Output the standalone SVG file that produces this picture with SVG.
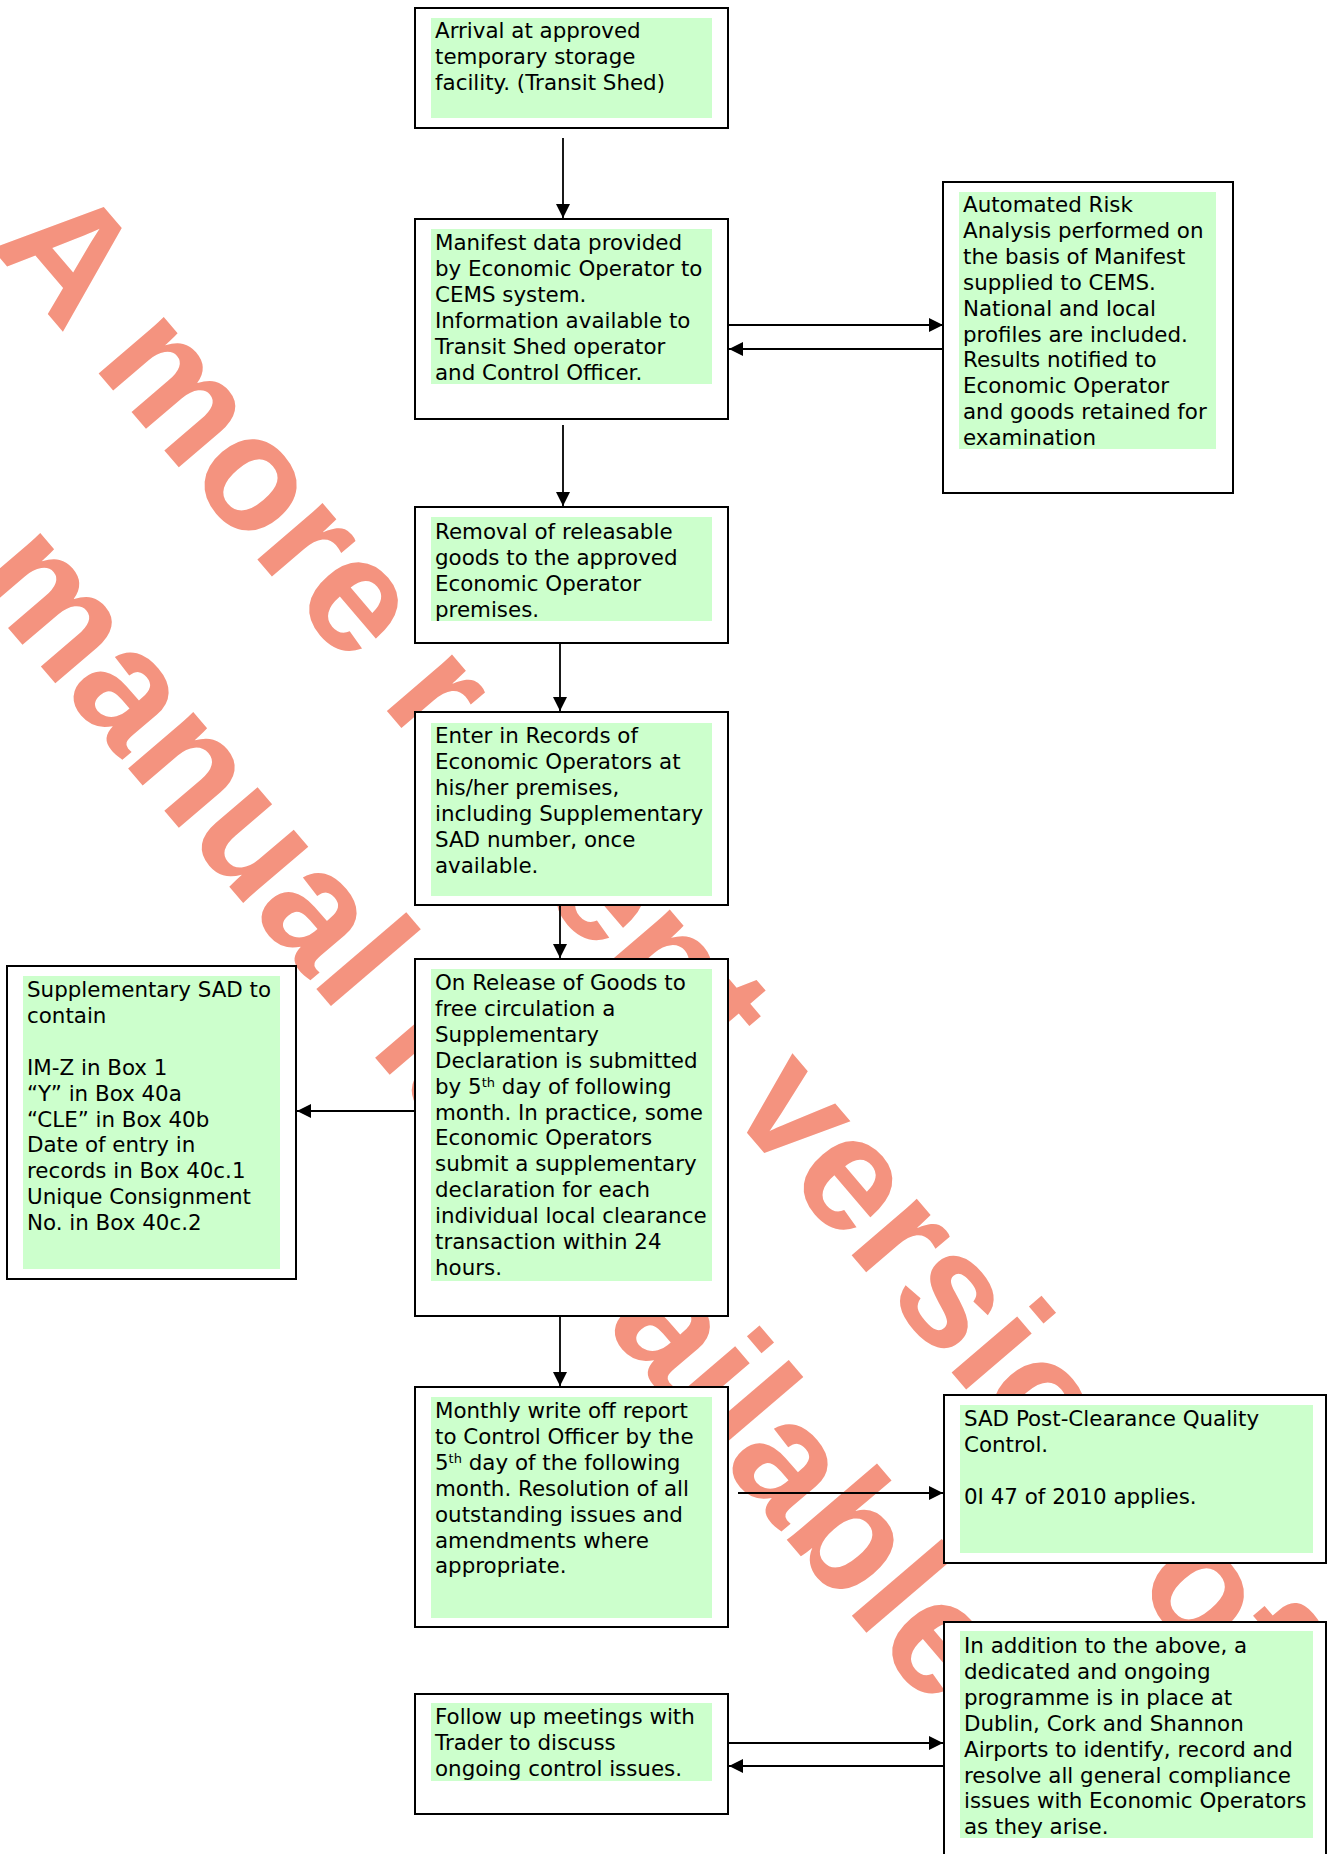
<svg xmlns="http://www.w3.org/2000/svg" width="1328" height="1854" viewBox="0 0 1328 1854">
<style>
.box{fill:#fff;stroke:#000;stroke-width:2}
.hl{fill:#ccffcc}
.t{font-family:"DejaVu Sans",Verdana,sans-serif;font-size:21.4px;fill:#000}
.sup{font-size:13px}
.wm{font-family:"Liberation Sans",Arial,sans-serif;font-weight:bold;font-size:163px;fill:#f4937f}
.c{stroke:#000;stroke-width:1.8;fill:none;marker-end:url(#ah)}
</style>
<defs>
<marker id="ah" markerUnits="userSpaceOnUse" markerWidth="15" markerHeight="15" refX="14" refY="7" orient="auto">
<path d="M0,0 L14,7 L0,14 z" fill="#000"/>
</marker>
</defs>
<rect width="1328" height="1854" fill="#fff"/>
<g id="watermark" transform="translate(-10.8,245.4) rotate(49.5)">
<text class="wm" x="0" y="0">A more recent version of</text>
<text class="wm" x="241" y="234">manual is available</text>
</g>
<g id="connectors">
<line class="c" x1="563" y1="138" x2="563" y2="218"/>
<line class="c" x1="728" y1="325" x2="943" y2="325"/>
<line class="c" x1="948" y1="349" x2="729" y2="349"/>
<line class="c" x1="563" y1="425" x2="563" y2="506"/>
<line class="c" x1="560" y1="643" x2="560" y2="711"/>
<line class="c" x1="560" y1="905" x2="560" y2="958"/>
<line class="c" x1="415" y1="1111" x2="297" y2="1111"/>
<line class="c" x1="560" y1="1316" x2="560" y2="1386"/>
<line class="c" x1="738" y1="1493" x2="943" y2="1493"/>
<line class="c" x1="728" y1="1743" x2="943" y2="1743"/>
<line class="c" x1="943" y1="1766" x2="729" y2="1766"/>
</g>
<g id="n1">
<rect class="box" x="415" y="8" width="313" height="120"/>
<rect class="hl" x="431" y="18" width="281" height="100"/>
<text class="t"><tspan x="435" y="38">Arrival at approved</tspan><tspan x="435" y="64">temporary storage</tspan><tspan x="435" y="90">facility. (Transit Shed)</tspan></text>
</g>
<g id="n2">
<rect class="box" x="415" y="219" width="313" height="200"/>
<rect class="hl" x="431" y="229" width="281" height="155"/>
<text class="t"><tspan x="435" y="250">Manifest data provided</tspan><tspan x="435" y="275.9">by Economic Operator to</tspan><tspan x="435" y="301.8">CEMS system.</tspan><tspan x="435" y="327.7">Information available to</tspan><tspan x="435" y="353.6">Transit Shed operator</tspan><tspan x="435" y="379.5">and Control Officer.</tspan></text>
</g>
<g id="n3">
<rect class="box" x="943" y="182" width="290" height="311"/>
<rect class="hl" x="959" y="192" width="257" height="257"/>
<text class="t"><tspan x="963" y="212">Automated Risk</tspan><tspan x="963" y="237.9">Analysis performed on</tspan><tspan x="963" y="263.8">the basis of Manifest</tspan><tspan x="963" y="289.7">supplied to CEMS.</tspan><tspan x="963" y="315.6">National and local</tspan><tspan x="963" y="341.5">profiles are included.</tspan><tspan x="963" y="367.4">Results notified to</tspan><tspan x="963" y="393.3">Economic Operator</tspan><tspan x="963" y="419.2">and goods retained for</tspan><tspan x="963" y="445.1">examination</tspan></text>
</g>
<g id="n4">
<rect class="box" x="415" y="507" width="313" height="136"/>
<rect class="hl" x="431" y="517" width="281" height="104"/>
<text class="t"><tspan x="435" y="539">Removal of releasable</tspan><tspan x="435" y="564.9">goods to the approved</tspan><tspan x="435" y="590.8">Economic Operator</tspan><tspan x="435" y="616.7">premises.</tspan></text>
</g>
<g id="n5">
<rect class="box" x="415" y="712" width="313" height="193"/>
<rect class="hl" x="431" y="723" width="281" height="173"/>
<text class="t"><tspan x="435" y="743">Enter in Records of</tspan><tspan x="435" y="768.9">Economic Operators at</tspan><tspan x="435" y="794.8">his/her premises,</tspan><tspan x="435" y="820.7">including Supplementary</tspan><tspan x="435" y="846.6">SAD number, once</tspan><tspan x="435" y="872.5">available.</tspan></text>
</g>
<g id="n6">
<rect class="box" x="415" y="959" width="313" height="357"/>
<rect class="hl" x="431" y="969" width="281" height="312"/>
<text class="t"><tspan x="435" y="990">On Release of Goods to</tspan><tspan x="435" y="1015.9">free circulation a</tspan><tspan x="435" y="1041.8">Supplementary</tspan><tspan x="435" y="1067.7">Declaration is submitted</tspan><tspan x="435" y="1093.6">by 5</tspan><tspan class="sup" dy="-7">th</tspan><tspan dy="7"> day of following</tspan><tspan x="435" y="1119.5">month. In practice, some</tspan><tspan x="435" y="1145.4">Economic Operators</tspan><tspan x="435" y="1171.3">submit a supplementary</tspan><tspan x="435" y="1197.2">declaration for each</tspan><tspan x="435" y="1223.1">individual local clearance</tspan><tspan x="435" y="1249">transaction within 24</tspan><tspan x="435" y="1274.9">hours.</tspan></text>
</g>
<g id="n7">
<rect class="box" x="7" y="966" width="289" height="313"/>
<rect class="hl" x="23" y="976" width="257" height="293"/>
<text class="t"><tspan x="27" y="997">Supplementary SAD to</tspan><tspan x="27" y="1022.9">contain</tspan><tspan x="27" y="1074.7">IM-Z in Box 1</tspan><tspan x="27" y="1100.6">“Y” in Box 40a</tspan><tspan x="27" y="1126.5">“CLE” in Box 40b</tspan><tspan x="27" y="1152.4">Date of entry in</tspan><tspan x="27" y="1178.3">records in Box 40c.1</tspan><tspan x="27" y="1204.2">Unique Consignment</tspan><tspan x="27" y="1230.1">No. in Box 40c.2</tspan></text>
</g>
<g id="n8">
<rect class="box" x="415" y="1387" width="313" height="240"/>
<rect class="hl" x="431" y="1397" width="281" height="221"/>
<text class="t"><tspan x="435" y="1418">Monthly write off report</tspan><tspan x="435" y="1443.9">to Control Officer by the</tspan><tspan x="435" y="1469.8">5</tspan><tspan class="sup" dy="-7">th</tspan><tspan dy="7"> day of the following</tspan><tspan x="435" y="1495.7">month. Resolution of all</tspan><tspan x="435" y="1521.6">outstanding issues and</tspan><tspan x="435" y="1547.5">amendments where</tspan><tspan x="435" y="1573.4">appropriate.</tspan></text>
</g>
<g id="n9">
<rect class="box" x="944" y="1395" width="382" height="168"/>
<rect class="hl" x="960" y="1405" width="353" height="148"/>
<text class="t"><tspan x="964" y="1426">SAD Post-Clearance Quality</tspan><tspan x="964" y="1451.9">Control.</tspan><tspan x="964" y="1503.7">0I 47 of 2010 applies.</tspan></text>
</g>
<g id="n10">
<rect class="box" x="415" y="1694" width="313" height="120"/>
<rect class="hl" x="431" y="1703" width="281" height="78"/>
<text class="t"><tspan x="435" y="1724">Follow up meetings with</tspan><tspan x="435" y="1749.9">Trader to discuss</tspan><tspan x="435" y="1775.8">ongoing control issues.</tspan></text>
</g>
<g id="n11">
<rect class="box" x="944" y="1622" width="382" height="250"/>
<rect class="hl" x="960" y="1631" width="353" height="207"/>
<text class="t"><tspan x="964" y="1653">In addition to the above, a</tspan><tspan x="964" y="1678.9">dedicated and ongoing</tspan><tspan x="964" y="1704.8">programme is in place at</tspan><tspan x="964" y="1730.7">Dublin, Cork and Shannon</tspan><tspan x="964" y="1756.6">Airports to identify, record and</tspan><tspan x="964" y="1782.5">resolve all general compliance</tspan><tspan x="964" y="1808.4">issues with Economic Operators</tspan><tspan x="964" y="1834.3">as they arise.</tspan></text>
</g>
</svg>
